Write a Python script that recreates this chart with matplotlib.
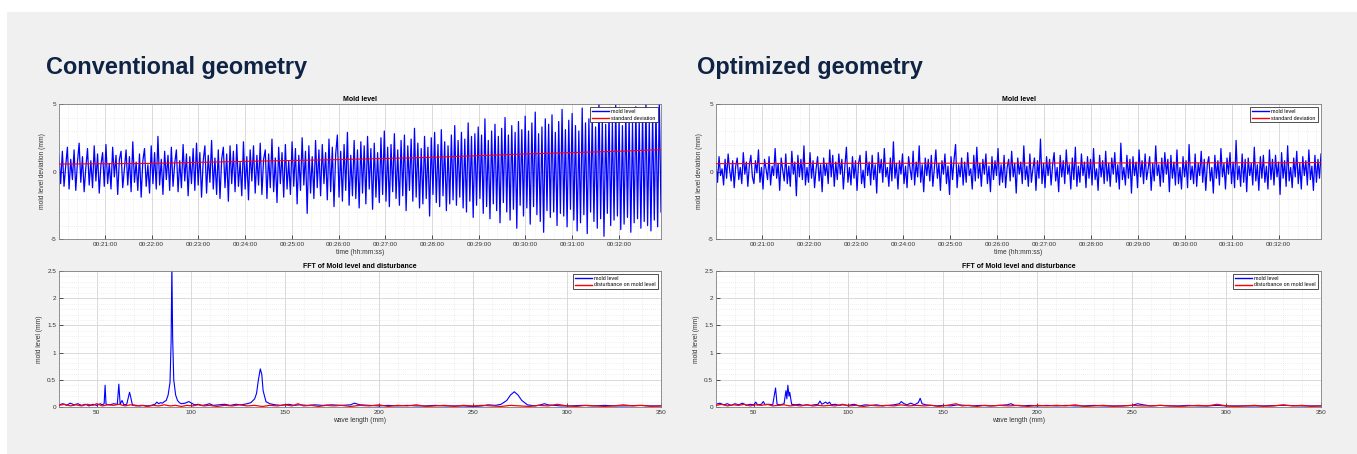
import numpy as np
import matplotlib
matplotlib.use("Agg")
import matplotlib.pyplot as plt
from matplotlib.patches import Rectangle
from matplotlib.ticker import MultipleLocator, FuncFormatter

plt.rcParams['font.family'] = ['Liberation Sans', 'DejaVu Sans']
plt.rcParams['axes.unicode_minus'] = False

# time window of the mold level plots (seconds after 00:00:00)
t_start, t_end = 1201, 1974

# mold level deviation (mm), conventional geometry
conv_level = [
    1.2, -0.9, 1.5, -1.1, 0.4, 1.8, -1.3, 0.9, -0.6, 1.6, -1.4, 0.7, 2.1, -0.8, 1.1, -1.5, 0.3, 1.7, -1.0, 0.8,
    -1.2, 1.9, -0.7, 1.3, -1.6, 0.5, 1.4, -1.1, 2.0, -0.9, 0.6, -1.3, 1.8, -0.4, 1.2, -1.7, 0.9, 1.5, -1.2, 0.2,
    1.6, -1.0, 1.1, -1.5, 2.2, -0.8, 0.7, -1.4, 1.3, -1.9, 0.8, 1.7, -1.1, 0.5, -1.6, 1.9, -0.9, 1.4, -1.3, 2.6,
    -1.0, 0.9, -1.7, 1.5, -0.6, 1.2, -1.4, 1.8, -1.1, 0.6, 1.6, -1.5, 0.8, -1.2, 2.0, -0.7, 1.3, -1.8, 1.1, -0.9,
    1.7, -1.4, 2.1, -1.0, 1.4, -1.9, 0.8, 1.9, -1.6, 1.2, -0.8, 2.3, -1.3, 1.0, -1.7, 1.6, -2.0, 0.9, 1.8, -1.2,
    1.3, -2.2, 1.9, -0.9, 1.5, -1.5, 2.0, -1.1, 0.7, -1.8, 2.2, -1.3, 1.1, -2.1, 1.6, -0.7, 1.9, -1.6, 1.2, -1.0,
    2.1, -1.7, 0.9, 1.6, -2.0, 1.3, -1.2, 2.4, -1.5, 1.0, -2.3, 1.8, -0.9, 1.4, -1.9, 2.0, -1.3, 0.8, -1.7, 2.2,
    -1.1, 1.7, -2.4, 1.2, -1.4, 2.5, -1.0, 1.5, -3.1, 1.9, -1.6, 1.1, -2.0, 2.3, -1.2, 1.6, -1.8, 2.0, -0.9, 1.4,
    -2.1, 2.4, -1.5, 1.8, -2.6, 1.3, 2.7, -1.9, 1.5, -2.2, 2.0, -1.4, 2.9, -2.5, 1.2, -1.8, 2.3, -2.0, 1.6, -2.7,
    2.2, -1.6, 1.9, -2.4, 2.6, -1.3, 1.7, -2.8, 2.1, -1.9, 1.4, -2.3, 2.5, -1.7, 3.0, -2.2, 1.8, -2.6, 2.0, -1.5,
    2.8, -2.0, 1.6, -2.5, 2.3, -1.8, 2.7, -2.9, 1.9, -1.4, 2.4, -2.2, 3.2, -1.9, 2.1, -2.7, 1.7, -2.4, 2.6, -2.0,
    1.8, -3.3, 2.5, -1.7, 2.9, -2.3, 2.0, -2.6, 3.1, -1.8, 2.2, -2.9, 1.9, -2.4, 2.7, -2.1, 3.4, -2.5, 2.3, -1.9,
    2.9, -2.7, 2.4, -3.0, 3.6, -2.2, 2.6, -3.4, 2.8, -2.5, 3.3, -2.0, 2.7, -3.1, 3.9, -2.6, 2.3, -3.5, 3.0, -2.4,
    3.5, -2.9, 2.6, -3.8, 3.2, -2.3, 4.0, -3.0, 2.7, -3.6, 3.4, -2.8, 2.9, -4.2, 3.7, -2.5, 3.1, -3.3, 4.1, -2.7,
    3.0, -3.9, 3.6, -2.6, 4.4, -3.2, 2.8, -3.7, 3.3, -4.5, 3.9, -2.9, 3.5, -3.4, 4.2, -3.0, 2.9, -4.0, 3.7, -3.1,
    4.6, -3.3, 3.1, -4.1, 3.8, -2.8, 4.3, -3.6, 3.4, -4.4, 3.0, -3.8, 4.7, -3.2, 3.6, -4.6, 3.9, -3.0, 4.1, -3.7,
    3.3, -4.2, 5.2, -3.5, 3.8, -4.8, 3.5, -3.1, 4.4, -4.0, 3.7, -3.6, 4.9, -3.3, 4.0, -4.3, 3.4, -3.9, 4.5, -3.4,
    4.1, -4.5, 3.6, -3.8, 4.8, -3.5, 3.9, -4.2, 4.3, -3.7, 5.1, -4.0, 3.8, -4.4, 4.2, -3.6, 4.7, -4.1, 5.3, -3.0,
]

# mold level deviation (mm), optimized geometry
opt_level = [
    0.6, -0.8, 1.1, -0.3, 0.2, -1.0, 0.9, -0.5, 1.3, 0.1, -0.7, 0.8, -1.2, 0.4, 1.0, -0.6, 0.3, -0.9, 1.4, -0.2,
    0.7, -1.1, 0.5, 1.2, -0.4, -0.9, 0.8, -0.1, 1.6, -0.8, 0.3, -1.3, 0.9, 0.2, -0.6, 1.1, -1.0, 0.4, -0.3, 1.7,
    -0.5, 0.6, -1.4, 1.0, 0.1, -0.7, 1.3, -0.9, 0.4, -1.1, 1.5, -0.2, 0.7, -1.8, 1.2, -0.4, 0.9, -0.6, 1.9, -1.0,
    0.3, -0.8, 1.4, -0.5, 0.8, -1.2, 0.2, 1.1, -0.7, 0.5, -1.5, 1.0, -0.3, 0.6, -0.9, 1.6, -0.4, 1.2, -1.1, 0.7,
    -0.6, 1.3, -0.2, 0.9, -1.3, 0.4, 1.8, -0.8, 0.3, -1.0, 1.1, -0.5, 0.8, -1.4, 0.6, 1.2, -0.9, 0.1, -1.2, 1.5,
    -0.3, 0.7, -1.0, 1.2, -0.6, 0.5, -1.6, 1.4, -0.1, 0.9, -0.8, 1.7, -0.4, 0.3, -1.1, 1.0, -0.7, 2.2, -0.5, 0.6,
    -1.3, 0.8, -0.2, 1.3, -0.9, 0.4, -1.2, 1.1, 0.2, -0.6, 1.5, -1.0, 0.7, -0.4, 1.9, -0.8, 0.5, -1.5, 1.0, -0.3,
    0.9, -0.7, 1.2, -1.1, 0.3, 1.6, -0.5, 0.6, -1.4, 0.8, -0.2, 1.3, -0.9, 0.4, -1.7, 1.1, -0.6, 0.9, 2.0, -1.2,
    0.5, -0.4, 1.0, -1.0, 0.7, -0.8, 1.4, -0.3, 0.2, -1.3, 1.2, -0.7, 1.8, -0.5, 0.6, -1.1, 0.9, -0.2, 1.3, -0.9,
    0.4, -1.5, 1.1, -0.6, 0.8, -0.3, 1.7, -1.0, 0.5, -0.8, 1.2, -1.2, 0.3, 0.9, -0.7, 1.5, -0.4, 0.6, -1.6, 1.0,
    -0.2, 0.7, -0.9, 1.9, -0.6, 0.4, -1.1, 1.3, -0.8, 0.2, 1.0, -1.4, 0.8, -0.5, 2.4, -0.9, 0.6, -1.2, 1.1, -0.3,
    0.9, -1.0, 0.5, 1.4, -0.7, 0.3, -1.5, 1.2, -0.4, 0.8, -0.9, 1.6, -0.2, 0.5, -1.3, 1.0, -0.6, 1.8, -1.1, 0.4,
    -0.8, 1.3, -0.3, 0.7, -1.2, 1.1, -0.5, 0.9, -1.0, 1.7, -0.6, 0.2, -1.4, 1.2, -0.4, 0.8, -0.9, 1.5, -0.7, 0.6,
    -1.1, 1.0, -0.2, 1.4, -0.8, 0.5, -1.3, 2.1, -0.6, 0.3, -1.0, 1.2, -0.5, 0.9, -1.6, 1.1, -0.3, 0.7, -1.2, 1.6,
    -0.4, 0.8, -0.9, 1.3, -0.6, 0.2, 1.1, -1.4, 0.6, -0.7, 1.9, -0.3, 0.5, -1.1, 1.0, -0.8, 1.4, -0.2, 0.9, -1.5,
    1.2, -0.5, 0.7, -1.0, 1.6, -0.9, 0.3, -1.3, 1.1, -0.4, 0.8, -1.2, 2.0, -0.6, 0.4, -0.9, 1.3, -1.1, 0.6, -0.3,
    1.5, -0.8, 0.9, -1.4, 0.5, 1.1, -0.7, 0.3, -1.6, 1.2, -0.5, 0.8, -1.0, 1.7, -0.4, 0.6, -1.3, 1.0, -0.2, 1.4,
    -0.9, 0.7, -1.2, 2.3, -0.6, 0.4, -1.1, 1.3, -0.8, 0.9, -1.5, 1.0, -0.3, 0.6, -1.0, 1.8, -0.7, 0.5, -1.4, 1.1,
    -0.5, 1.2, -0.8, 0.4, -1.3, 1.6, -0.6, 0.9, -1.0, 1.2, -0.4, 0.7, -1.7, 1.4, -0.5, 0.8, -1.1, 1.9, -0.7, 0.3,
    -1.2, 1.0, -0.4, 1.5, -0.9, 0.6, -1.3, 1.1, -0.3, 0.8, -1.0, 1.6, -0.6, 0.4, -1.4, 1.2, -0.8, 0.9, -0.5, 1.3,
]

# standard deviation (mm) at a few times (seconds)
std_t = [1201, 1320, 1440, 1560, 1680, 1800, 1920, 1974]
conv_std = [0.55, 0.60, 0.75, 0.88, 1.05, 1.30, 1.50, 1.62]
opt_std = [0.58, 0.60, 0.61, 0.62, 0.63, 0.64, 0.65, 0.66]

# FFT, conventional geometry: wave length (mm) and amplitude (mm)
conv_fft_wl = [30, 32, 34, 36, 38, 40, 42, 44, 46, 48, 50, 52, 53, 54, 54.5, 55, 57, 59, 61, 61.8,
               62.5, 63.5, 64.5, 66, 67.5, 68, 69, 71, 73, 75, 77, 79, 81, 82, 83, 84, 85, 86, 87, 88,
               89, 89.6, 90, 90.4, 91, 92, 93, 94, 95, 97, 99, 100, 102, 104, 106, 108, 110, 112, 115, 118,
               121, 124, 127, 130, 132, 134, 135, 136, 137, 137.8, 138.5, 140, 142, 145, 148, 152, 155, 158, 162, 166,
               170, 175, 180, 185, 187, 190, 195, 200, 205, 210, 215, 220, 225, 230, 235, 240, 245, 250, 255, 258,
               262, 265, 268, 270, 272, 274, 276, 279, 283, 286, 288, 290, 293, 297, 302, 308, 314, 320, 326, 332,
               338, 344, 350]
conv_fft_amp = [0.04, 0.06, 0.03, 0.07, 0.04, 0.06, 0.03, 0.05, 0.02, 0.05, 0.03, 0.06, 0.04, 0.06, 0.40, 0.05, 0.04, 0.06, 0.05, 0.42,
                0.05, 0.12, 0.04, 0.05, 0.27, 0.20, 0.04, 0.03, 0.02, 0.03, 0.02, 0.03, 0.05, 0.09, 0.06, 0.08, 0.07, 0.10, 0.12, 0.22,
                0.45, 1.20, 2.60, 1.30, 0.50, 0.22, 0.12, 0.08, 0.06, 0.07, 0.10, 0.08, 0.04, 0.05, 0.03, 0.04, 0.06, 0.03, 0.04, 0.05,
                0.03, 0.05, 0.04, 0.06, 0.08, 0.15, 0.25, 0.50, 0.70, 0.60, 0.30, 0.10, 0.06, 0.04, 0.03, 0.05, 0.03, 0.04, 0.03, 0.04,
                0.03, 0.04, 0.03, 0.04, 0.07, 0.04, 0.03, 0.02, 0.03, 0.02, 0.03, 0.02, 0.02, 0.03, 0.02, 0.02, 0.02, 0.01, 0.02, 0.04,
                0.03, 0.05, 0.12, 0.22, 0.28, 0.22, 0.12, 0.04, 0.02, 0.04, 0.06, 0.04, 0.03, 0.02, 0.02, 0.03, 0.02, 0.03, 0.02, 0.02,
                0.03, 0.02, 0.02]
conv_dist_wl = [30, 33, 36, 39, 42, 45, 48, 50, 53, 56, 59, 62, 65, 68, 71, 74, 77, 80, 83, 86,
                89, 92, 95, 98, 101, 104, 107, 110, 114, 118, 122, 126, 130, 134, 138, 142, 146, 150, 154, 157,
                160, 164, 168, 172, 176, 180, 185, 190, 195, 200, 205, 210, 215, 220, 225, 230, 235, 240, 245, 250,
                255, 260, 265, 270, 275, 280, 285, 290, 295, 300, 305, 310, 315, 320, 325, 330, 335, 340, 345, 350]
conv_dist_amp = [0.03, 0.05, 0.02, 0.04, 0.02, 0.05, 0.03, 0.06, 0.02, 0.04, 0.03, 0.05, 0.02, 0.04, 0.02, 0.03, 0.01, 0.03, 0.02, 0.04,
                 0.02, 0.03, 0.01, 0.03, 0.02, 0.04, 0.02, 0.03, 0.01, 0.03, 0.02, 0.04, 0.02, 0.03, 0.01, 0.03, 0.02, 0.04, 0.02, 0.06,
                 0.02, 0.03, 0.01, 0.03, 0.02, 0.03, 0.01, 0.03, 0.02, 0.04, 0.01, 0.03, 0.02, 0.04, 0.01, 0.02, 0.03, 0.01, 0.03, 0.02,
                 0.03, 0.02, 0.01, 0.03, 0.02, 0.01, 0.03, 0.02, 0.05, 0.02, 0.01, 0.03, 0.02, 0.01, 0.02, 0.04, 0.02, 0.03, 0.01, 0.02]

# FFT, optimized geometry
opt_fft_wl = [30, 32, 34, 36, 38, 40, 42, 44, 46, 48, 50, 51, 52, 54, 55, 56, 58, 60, 61.5, 62.3,
              64, 66, 67, 67.5, 68, 68.6, 69, 70, 72, 74, 76, 78, 80, 82, 84, 85, 86, 88, 89, 90,
              91, 93, 95, 97, 100, 103, 106, 109, 112, 115, 118, 121, 124, 127, 128, 129.5, 131, 133, 135, 137,
              138, 139, 141, 144, 147, 150, 154, 158, 162, 166, 170, 175, 180, 184, 186, 188, 192, 196, 200, 205,
              210, 215, 220, 225, 230, 235, 240, 245, 250, 253, 256, 260, 265, 270, 275, 280, 285, 290, 295, 300,
              310, 320, 330, 340, 350]
opt_fft_amp = [0.05, 0.07, 0.04, 0.06, 0.03, 0.06, 0.04, 0.07, 0.03, 0.05, 0.04, 0.09, 0.04, 0.05, 0.10, 0.04, 0.05, 0.04, 0.35, 0.05,
               0.04, 0.06, 0.30, 0.15, 0.40, 0.20, 0.27, 0.05, 0.04, 0.05, 0.03, 0.04, 0.03, 0.04, 0.05, 0.11, 0.05, 0.09, 0.06, 0.09,
               0.04, 0.05, 0.03, 0.04, 0.03, 0.05, 0.02, 0.04, 0.03, 0.04, 0.02, 0.03, 0.04, 0.06, 0.10, 0.06, 0.04, 0.07, 0.04, 0.08,
               0.16, 0.06, 0.04, 0.03, 0.02, 0.03, 0.02, 0.04, 0.03, 0.02, 0.03, 0.02, 0.03, 0.04, 0.06, 0.03, 0.02, 0.03, 0.02, 0.03,
               0.02, 0.03, 0.02, 0.02, 0.03, 0.02, 0.02, 0.02, 0.03, 0.06, 0.04, 0.02, 0.03, 0.02, 0.02, 0.03, 0.02, 0.02, 0.03, 0.02,
               0.02, 0.02, 0.03, 0.02, 0.02]
opt_dist_wl = [30, 33, 36, 39, 42, 45, 48, 51, 54, 57, 60, 63, 66, 69, 72, 75, 78, 81, 84, 87,
               90, 93, 97, 100, 104, 108, 112, 116, 120, 124, 128, 132, 136, 140, 144, 148, 152, 157, 160, 164,
               168, 172, 176, 180, 185, 190, 195, 200, 205, 210, 215, 220, 225, 230, 235, 240, 245, 250, 255, 260,
               265, 270, 275, 280, 285, 290, 295, 300, 305, 310, 315, 320, 325, 330, 335, 340, 345, 350]
opt_dist_amp = [0.03, 0.05, 0.02, 0.04, 0.03, 0.05, 0.02, 0.04, 0.03, 0.05, 0.02, 0.03, 0.04, 0.02, 0.03, 0.02, 0.04, 0.02, 0.03, 0.02,
                0.03, 0.02, 0.05, 0.02, 0.03, 0.01, 0.03, 0.02, 0.03, 0.02, 0.04, 0.02, 0.03, 0.02, 0.03, 0.01, 0.03, 0.06, 0.02, 0.03,
                0.01, 0.03, 0.02, 0.03, 0.02, 0.03, 0.01, 0.03, 0.02, 0.03, 0.02, 0.04, 0.01, 0.02, 0.03, 0.01, 0.02, 0.03, 0.02, 0.02,
                0.03, 0.02, 0.01, 0.02, 0.03, 0.02, 0.05, 0.02, 0.01, 0.02, 0.03, 0.01, 0.02, 0.04, 0.02, 0.03, 0.01, 0.02]

panel_titles = ["Conventional geometry", "Optimized geometry"]

BG = '#f0f0f0'
NAVY = '#0f2444'
BLUE = '#0000ff'
RED = '#ff0000'
W, H = 1357, 454

fig = plt.figure(figsize=(W / 100, H / 100), dpi=100, facecolor='white')
bg = Rectangle((7 / W, 0), 1, 1 - 12 / H, transform=fig.transFigure,
               facecolor=BG, edgecolor='none', zorder=-10)
fig.add_artist(bg)


def px_axes(x0, y0, x1, y1):
    # axes from pixel box (top-left origin)
    return fig.add_axes([x0 / W, 1 - y1 / H, (x1 - x0) / W, (y1 - y0) / H])


def style(ax):
    ax.set_facecolor('white')
    for s in ax.spines.values():
        s.set_color('#7f7f7f')
        s.set_linewidth(0.6)
    ax.tick_params(which='major', direction='in', length=3, width=0.6, color='#333333',
                   labelsize=4.6, labelcolor='#333333', pad=2, top=False, right=False)
    ax.tick_params(which='minor', length=0)
    ax.grid(True, which='major', color='#d4d4d4', lw=0.6)
    ax.grid(True, which='minor', color='#e0e0e0', lw=0.5, ls=(0, (1, 2)))
    ax.set_axisbelow(True)


def time_fmt(s, _):
    s = int(round(s))
    return f"00:{s // 60:02d}:{s % 60:02d}"


def legend(ax):
    leg = ax.legend(loc='upper right', fontsize=3.9, frameon=True, fancybox=False,
                    edgecolor='#333333', framealpha=1, handlelength=3.2, borderpad=0.35,
                    labelspacing=0.25, handletextpad=0.4, borderaxespad=0.6)
    leg.get_frame().set_linewidth(0.6)
    leg.set_zorder(5)
    for ln in leg.get_lines():
        ln.set_linewidth(1.0)


layouts = [(59, 661), (716, 1321)]
title_x = [46, 697]
levels = [conv_level, opt_level]
stds = [conv_std, opt_std]
ffts = [(conv_fft_wl, conv_fft_amp, conv_dist_wl, conv_dist_amp),
        (opt_fft_wl, opt_fft_amp, opt_dist_wl, opt_dist_amp)]

for i in range(2):
    x0, x1 = layouts[i]
    fig.text(title_x[i] / W, 1 - 74 / H, panel_titles[i], fontsize=16.9, fontweight='bold',
             color=NAVY, ha='left', va='baseline')

    # mold level time plot
    ax = px_axes(x0, 104, x1, 239)
    style(ax)
    t = np.linspace(t_start, t_end, len(levels[i]))
    ax.plot(t, levels[i], color=BLUE, lw=0.9, label="mold level", zorder=2)
    ax.plot(std_t, stds[i], color=RED, lw=0.8, label="standard deviation", zorder=3)
    ax.set_xlim(t_start, t_end)
    ax.set_ylim(-5, 5)
    ax.xaxis.set_major_locator(MultipleLocator(60))
    ax.xaxis.set_minor_locator(MultipleLocator(12))
    ax.xaxis.set_major_formatter(FuncFormatter(time_fmt))
    ax.yaxis.set_major_locator(MultipleLocator(5))
    ax.yaxis.set_minor_locator(MultipleLocator(1))
    ax.set_title("Mold level", fontsize=5, fontweight='bold', pad=2.5)
    ax.set_xlabel("time (hh:mm:ss)", fontsize=4.8, color='#333333', labelpad=1.5)
    ax.set_ylabel("mold level deviation (mm)", fontsize=4.8, color='#333333', labelpad=3)
    legend(ax)

    # FFT plot
    wl, amp, dwl, damp = ffts[i]
    ax2 = px_axes(x0, 271, x1, 407)
    style(ax2)
    ax2.plot(wl, amp, color=BLUE, lw=0.8, label="mold level", zorder=2)
    ax2.plot(dwl, damp, color=RED, lw=0.9, label="disturbance on mold level", zorder=3)
    ax2.set_xlim(30, 350)
    ax2.set_ylim(0, 2.5)
    ax2.xaxis.set_major_locator(MultipleLocator(50))
    ax2.xaxis.set_minor_locator(MultipleLocator(10))
    ax2.yaxis.set_major_locator(MultipleLocator(0.5))
    ax2.yaxis.set_minor_locator(MultipleLocator(0.1))
    ax2.yaxis.set_major_formatter(FuncFormatter(lambda v, _: f"{v:g}"))
    ax2.set_title("FFT of Mold level and disturbance", fontsize=5, fontweight='bold', pad=2.5)
    ax2.set_xlabel("wave length (mm)", fontsize=4.8, color='#333333', labelpad=1.5)
    ax2.set_ylabel("mold level (mm)", fontsize=4.8, color='#333333', labelpad=3)
    legend(ax2)

fig.savefig("out.png", dpi=100, facecolor=fig.get_facecolor())
